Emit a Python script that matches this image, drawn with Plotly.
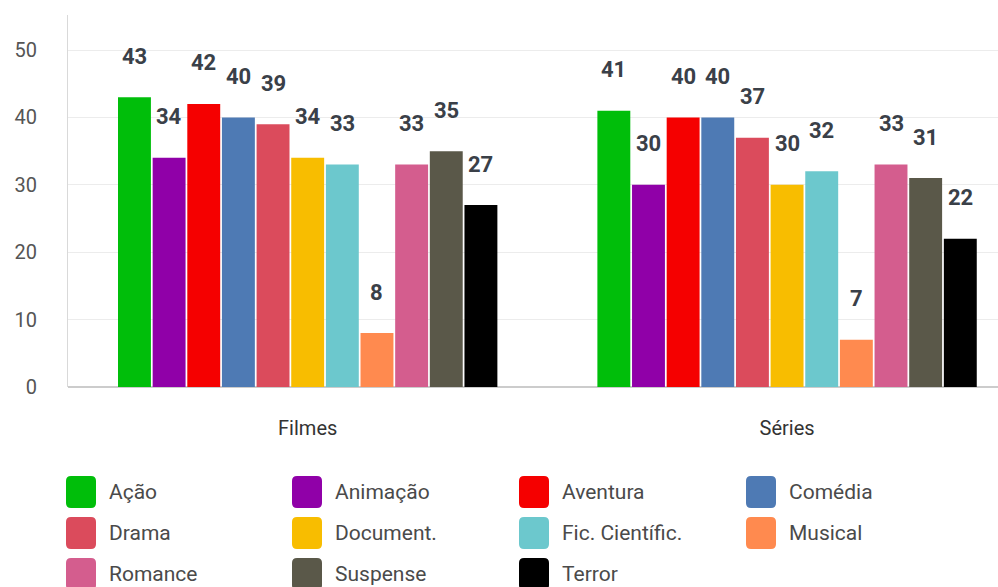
import plotly.graph_objects as go

groups = ["Filmes", "Séries"]
genres = ["Ação", "Animação", "Aventura", "Comédia", "Drama", "Document.",
          "Fic. Científic.", "Musical", "Romance", "Suspense", "Terror"]
filmes = [43, 34, 42, 40, 39, 34, 33, 8, 33, 35, 27]
series = [41, 30, 40, 40, 37, 30, 32, 7, 33, 31, 22]
colors = ["#00BE0A", "#9000A8", "#F50000", "#4E7AB4", "#DB4B5C", "#F8BD00",
          "#6CC8CD", "#FF8A4F", "#D45D8E", "#5A5849", "#000000"]
y_ticks = [0, 10, 20, 30, 40, 50]

W, H = 998, 587
ML, MR, MT, MB = 68, 0, 15, 200
BARGAP = 0.205

fig = go.Figure()
for i, g in enumerate(genres):
    fig.add_trace(go.Bar(
        name=g, x=groups, y=[filmes[i], series[i]],
        marker=dict(color=colors[i], line=dict(width=0)),
        showlegend=False, hoverinfo="x+y+name",
    ))

# value labels above bars (annotations positioned by category index + group offset)
n = len(genres)
slot = (1 - BARGAP) / n
for gi, vals in enumerate([filmes, series]):
    for k, v in enumerate(vals):
        fig.add_annotation(
            x=gi - (1 - BARGAP) / 2 + slot * (k + 0.5), y=v, xref="x", yref="y",
            text=f"<b>{v}</b>", showarrow=False, yanchor="middle", yshift=41,
            font=dict(family="Roboto", size=22, color="#3a4048"),
        )

# custom legend (4 columns) with rounded swatches
pw, ph = W - ML - MR, H - MT - MB
def px2x(px):
    return (px - ML) / pw
def py2y(py):
    return (H - MB - py) / ph

def rounded_rect(x0, y0, x1, y1, r):
    pts = []
    p = (f"M {px2x(x0 + r)} {py2y(y0)} L {px2x(x1 - r)} {py2y(y0)} "
         f"Q {px2x(x1)} {py2y(y0)} {px2x(x1)} {py2y(y0 + r)} "
         f"L {px2x(x1)} {py2y(y1 - r)} Q {px2x(x1)} {py2y(y1)} {px2x(x1 - r)} {py2y(y1)} "
         f"L {px2x(x0 + r)} {py2y(y1)} Q {px2x(x0)} {py2y(y1)} {px2x(x0)} {py2y(y1 - r)} "
         f"L {px2x(x0)} {py2y(y0 + r)} Q {px2x(x0)} {py2y(y0)} {px2x(x0 + r)} {py2y(y0)} Z")
    return p

col_x = [66, 292, 519, 746]
row_y = [492, 533, 574]
for idx, g in enumerate(genres):
    c, r = idx % 4, idx // 4
    x0, yc = col_x[c], row_y[r]
    fig.add_shape(type="path", xref="paper", yref="paper",
                  path=rounded_rect(x0, yc - 16, x0 + 30, yc + 16, 5),
                  fillcolor=colors[idx], line=dict(width=0))
    fig.add_annotation(xref="paper", yref="paper", x=px2x(x0 + 41), y=py2y(yc),
                       text=g, showarrow=False, xanchor="left", yanchor="middle",
                       font=dict(family="Roboto", size=21, color="#4a4a4a"))

fig.update_layout(
    width=W, height=H,
    margin=dict(l=ML, r=MR, t=MT, b=MB),
    paper_bgcolor="white", plot_bgcolor="white",
    barmode="group", bargap=BARGAP, bargroupgap=0.05,
    showlegend=False,
    xaxis=dict(range=[-0.5, 1.44], showgrid=False, showline=False, ticks="",
               tickfont=dict(family="Roboto", size=20, color="#333333"),
               ticklabelstandoff=27, fixedrange=True),
    yaxis=dict(range=[0, 55.2], tickvals=y_ticks, showgrid=True, gridcolor="#ececec",
               gridwidth=1, showline=True, linecolor="#d9d9d9", linewidth=1,
               zeroline=True, zerolinecolor="#cccccc", zerolinewidth=2,
               tickfont=dict(family="Roboto", size=20, color="#555555"),
               ticklabelstandoff=26, fixedrange=True),
)

fig.write_html("out.html")
